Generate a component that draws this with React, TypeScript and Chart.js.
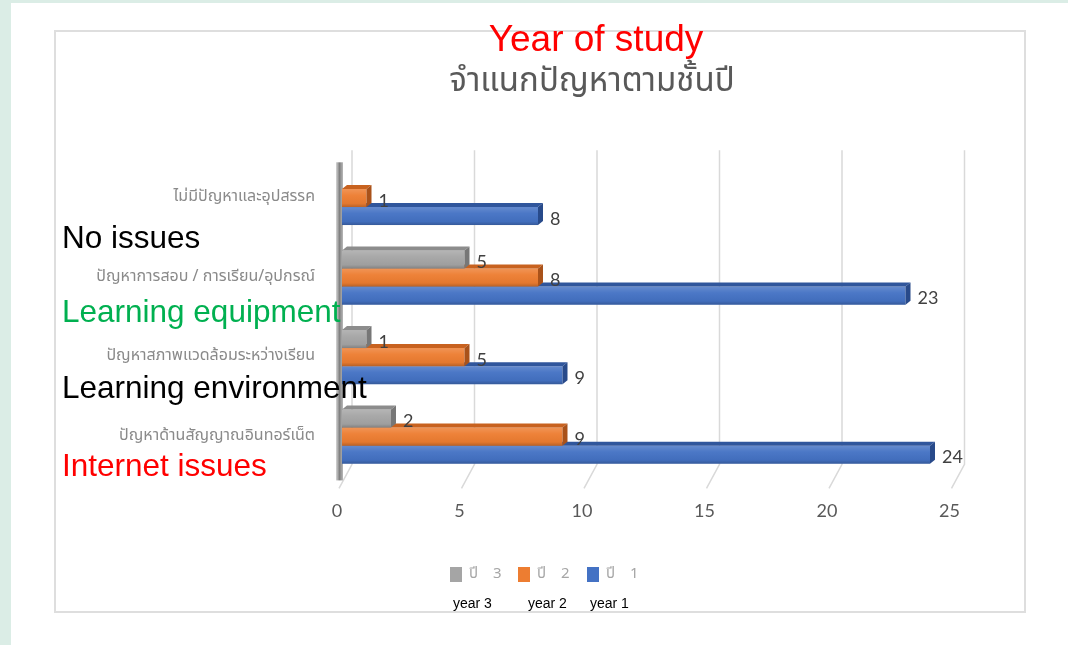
import React, { useEffect, useRef } from 'react';
import { Chart, registerables } from 'chart.js';

Chart.register(...registerables);

// ---------- data ----------
const categories = [
  'ไม่มีปัญหาและอุปสรรค',
  'ปัญหาการสอบ / การเรียน/อุปกรณ์',
  'ปัญหาสภาพแวดล้อมระหว่างเรียน',
  'ปัญหาด้านสัญญาณอินทอร์เน็ต',
];
const year3 = [0, 5, 1, 2];
const year2 = [1, 8, 5, 9];
const year1 = [8, 23, 9, 24];
const seriesLabels = ['ปี 3', 'ปี 2', 'ปี 1'];
const seriesEnglish = ['year 3', 'year 2', 'year 1'];
const xTicks = [0, 5, 10, 15, 20, 25];
const titleThai = 'จำแนกปัญหาตามชั้นปี';
const titleEnglish = 'Year of study';
const annotations = ['No issues', 'Learning equipment', 'Learning environment', 'Internet issues'];

// ---------- styles ----------
const frontColors = ['#a5a5a5', '#ed7d31', '#4472c4'];
const topColors = ['#8c8c8c', '#c8621f', '#30569c'];
const sideColors = ['#777777', '#a9521a', '#284a8a'];
const annotationColors = ['#000000', '#00b050', '#000000', '#ff0000'];
const annotationBaselines = [248, 322, 398, 476];
const legendBoxX = [450, 518, 587];
const englishLegendX = [453, 528, 590];
const thaiFont = "'Noto Sans Thai', Tahoma, 'Noto Sans', 'DejaVu Sans', sans-serif";
const numFont = "Lato, Carlito, 'Liberation Sans', sans-serif";
const latinFont = "'Liberation Sans', Arial, sans-serif";

const threeD = {
  id: 'threeD',
  beforeDatasetsDraw(chart: any) {
    const { ctx, chartArea, scales } = chart;
    const x = scales.x;
    ctx.save();
    ctx.strokeStyle = '#d9d9d9';
    ctx.lineWidth = 1.5;
    xTicks.forEach((v) => {
      const px = x.getPixelForValue(v);
      ctx.beginPath();
      ctx.moveTo(px + 10, chartArea.top - 8);
      ctx.lineTo(px + 10, chartArea.bottom - 12);
      ctx.lineTo(px - 3, chartArea.bottom + 12);
      ctx.stroke();
    });
    const left = chartArea.left;
    const g = ctx.createLinearGradient(left - 6, 0, left + 1, 0);
    g.addColorStop(0, '#d6d6d6');
    g.addColorStop(0.5, '#808080');
    g.addColorStop(1, '#b8b8b8');
    ctx.fillStyle = g;
    ctx.fillRect(left - 6, chartArea.top + 4, 7, chartArea.bottom + 4 - (chartArea.top + 4));
    ctx.restore();
  },
  afterDatasetDraw(chart: any, args: any) {
    const ctx = chart.ctx;
    const idx = args.index;
    const ds = chart.data.datasets[idx];
    ctx.save();
    args.meta.data.forEach((el: any, i: number) => {
      const v = ds.data[i];
      if (!v) return;
      const p = el.getProps(['x', 'y', 'base', 'height'], true);
      const x0 = p.base;
      const x1 = p.x;
      const yt = p.y - p.height / 2;
      const yb = p.y + p.height / 2;
      const gr = ctx.createLinearGradient(0, yt, 0, yb);
      gr.addColorStop(0, 'rgba(255,255,255,0.18)');
      gr.addColorStop(0.35, 'rgba(255,255,255,0.04)');
      gr.addColorStop(0.8, 'rgba(0,0,0,0.04)');
      gr.addColorStop(1, 'rgba(0,0,0,0.22)');
      ctx.fillStyle = gr;
      ctx.fillRect(x0, yt, x1 - x0, yb - yt);
      ctx.fillStyle = topColors[idx];
      ctx.beginPath();
      ctx.moveTo(x0, yt);
      ctx.lineTo(x1, yt);
      ctx.lineTo(x1 + 5, yt - 4);
      ctx.lineTo(x0 + 5, yt - 4);
      ctx.closePath();
      ctx.fill();
      ctx.fillStyle = sideColors[idx];
      ctx.beginPath();
      ctx.moveTo(x1, yt);
      ctx.lineTo(x1 + 5, yt - 4);
      ctx.lineTo(x1 + 5, yb - 4);
      ctx.lineTo(x1, yb);
      ctx.closePath();
      ctx.fill();
    });
    ctx.restore();
  },
  afterDatasetsDraw(chart: any) {
    const ctx = chart.ctx;
    ctx.save();
    ctx.font = `18px ${numFont}`;
    ctx.fillStyle = '#404040';
    ctx.textAlign = 'left';
    ctx.textBaseline = 'middle';
    chart.data.datasets.forEach((ds: any, di: number) => {
      const meta = chart.getDatasetMeta(di);
      meta.data.forEach((el: any, i: number) => {
        const v = ds.data[i];
        if (!v) return;
        const p = el.getProps(['x', 'y'], true);
        ctx.fillText(String(v), p.x + 12, p.y + 3);
      });
    });
    ctx.restore();
  },
  afterDraw(chart: any) {
    const ctx = chart.ctx;
    ctx.save();
    // titles
    ctx.textAlign = 'center';
    ctx.textBaseline = 'alphabetic';
    ctx.fillStyle = '#595959';
    ctx.font = `33px ${thaiFont}`;
    ctx.fillText(titleThai, 592, 91);
    ctx.fillStyle = '#ff0000';
    ctx.font = `37px ${latinFont}`;
    ctx.fillText(titleEnglish, 596, 51);
    // annotations
    ctx.textAlign = 'left';
    ctx.font = `31.5px ${latinFont}`;
    annotations.forEach((t, i) => {
      ctx.fillStyle = annotationColors[i];
      ctx.fillText(t, 62, annotationBaselines[i]);
    });
    // legend
    chart.data.datasets.forEach((ds: any, i: number) => {
      ctx.fillStyle = ds.backgroundColor;
      ctx.fillRect(legendBoxX[i], 567, 12, 15);
      ctx.fillStyle = '#a6a6a6';
      ctx.font = `15px ${thaiFont}`;
      ctx.textBaseline = 'middle';
      const parts = String(ds.label).split(' ');
      ctx.fillText(parts[0], legendBoxX[i] + 19, 575);
      ctx.fillText(parts[1], legendBoxX[i] + 43, 575);
      ctx.fillStyle = '#000000';
      ctx.font = `14px ${latinFont}`;
      ctx.textBaseline = 'alphabetic';
      ctx.fillText(seriesEnglish[i], englishLegendX[i], 608);
    });
    ctx.restore();
  },
};

export default function App() {
  const ref = useRef<HTMLCanvasElement | null>(null);
  useEffect(() => {
    if (!ref.current) return;
    const chart = new Chart(ref.current, {
      type: 'bar',
      data: {
        labels: categories,
        datasets: [
          { label: seriesLabels[0], data: year3, backgroundColor: frontColors[0] },
          { label: seriesLabels[1], data: year2, backgroundColor: frontColors[1] },
          { label: seriesLabels[2], data: year1, backgroundColor: frontColors[2] },
        ],
      },
      options: {
        indexAxis: 'y',
        animation: false,
        responsive: false,
        maintainAspectRatio: false,
        layout: { padding: { left: 0, right: 113.5, top: 158.3, bottom: 99 } },
        datasets: { bar: { barPercentage: 1, categoryPercentage: 0.68 } },
        plugins: {
          legend: { display: false },
          title: { display: false },
          tooltip: { enabled: false },
        },
        scales: {
          x: {
            min: 0,
            max: 25,
            afterBuildTicks: (s: any) => {
              s.ticks = xTicks.map((v) => ({ value: v }));
            },
            ticks: {
              padding: 24,
              labelOffset: -5,
              color: '#595959',
              font: { family: numFont, size: 18 },
            },
            grid: { display: false, drawTicks: false },
            border: { display: false },
          },
          y: {
            afterFit: (s: any) => {
              s.width = 342;
            },
            ticks: {
              padding: 27,
              color: '#8a8a8a',
              font: { family: thaiFont, size: 16 },
            },
            grid: { display: false, drawTicks: false },
            border: { display: false },
          },
        },
      },
      plugins: [threeD],
    } as any);
    return () => chart.destroy();
  }, []);

  return (
    <div style={{ position: 'absolute', left: 0, top: 0, width: 1068, height: 645, background: '#dbede6', overflow: 'hidden' }}>
      <div style={{ position: 'absolute', left: 11, top: 3, right: 0, bottom: 0, background: '#ffffff' }} />
      <div
        style={{
          position: 'absolute',
          left: 54,
          top: 30,
          width: 972,
          height: 583,
          boxSizing: 'border-box',
          border: '2px solid #dedede',
        }}
      />
      <canvas ref={ref} width={1068} height={645} style={{ position: 'absolute', left: 0, top: 0, width: 1068, height: 645 }} />
    </div>
  );
}
